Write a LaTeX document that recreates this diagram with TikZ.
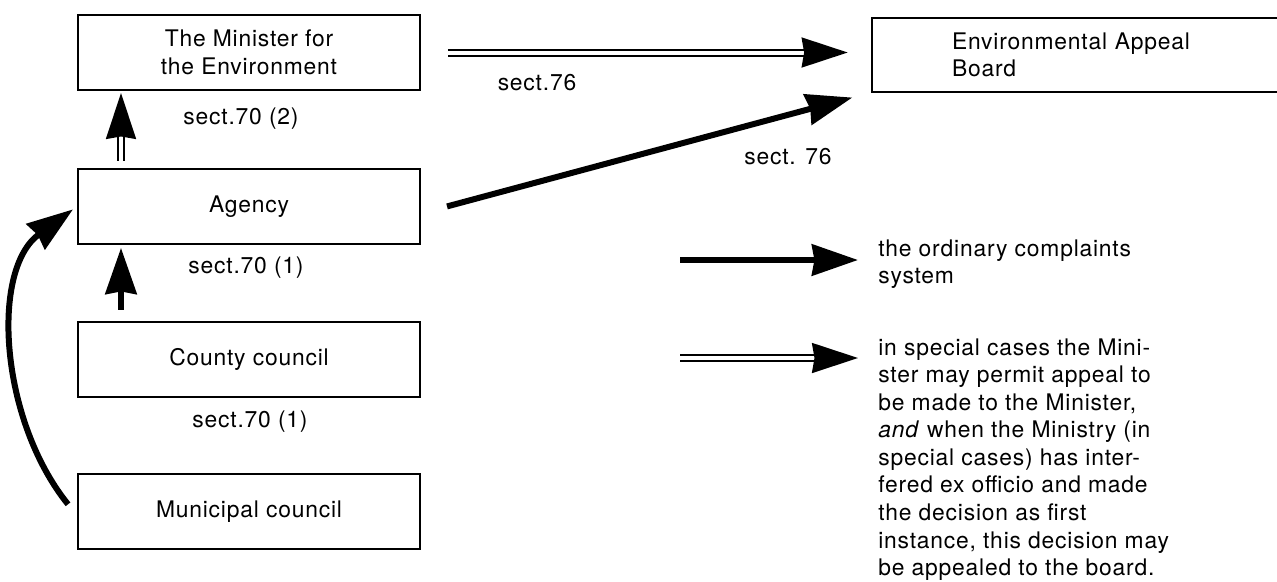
\documentclass[tikz,border=0pt]{standalone}
\usepackage{fontspec}
\setmainfont{TeX Gyre Heros}[LetterSpace=3.5]
\usetikzlibrary{positioning,arrows.meta}
\begin{document}
\begin{tikzpicture}[font=\fontsize{13}{15.7}\selectfont]
\tikzstyle{box} = [rectangle, minimum width=6.84cm, minimum height=1.5cm, align=center, draw=black, line width=1.1pt]
\tikzstyle{openbox} = [rectangle, minimum width=8.1cm, minimum height=1.48cm, inner xsep=1.6cm, text width=4.9cm, align=left]
\tikzstyle{sect} = [inner sep=0pt]
\tikzstyle{arrow} = [line width=0.12cm, -{Stealth[length=0.92cm,width=0.62cm,inset=0.05cm]}]
\tikzstyle{dblarrow} = [line width=0.04cm, double distance=0.08cm, -{Stealth[length=0.92cm,width=0.6cm,inset=0.05cm]}]
\tikzstyle{legend} = [anchor=north west, inner sep=0pt, align=left]

\useasboundingbox (0,0) rectangle (25.54,-11.62);

%nodes
\node (minister) [box] at (4.98,-1.05) {The Minister for\\the Environment};
\node (agency) [box, below=1.54cm of minister] {Agency};
\node (county) [box, below=1.52cm of agency] {County council};
\node (muni) [box, below=1.5cm of county] {Municipal council};
\node (board) [openbox] at (21.49,-1.1) {Environmental Appeal\\Board};
\draw [line width=1.1pt] (board.north east) -- (board.north west) -- (board.south west) -- (board.south east);

\node (s702) [sect] at ([xshift=-0.16cm,yshift=-0.56cm]minister.south) {sect.70 (2)};
\node (s701a) [sect] at ([xshift=-0.06cm,yshift=-0.46cm]agency.south) {sect.70 (1)};
\node (s701b) [sect] at ([xshift=0.02cm,yshift=-0.48cm]county.south) {sect.70 (1)};
\node (s76a) [sect] at (10.74,-1.66) {sect.76};
\node (s76b) [sect] at (15.76,-3.14) {sect. 76};

\node (ordtext) [legend] at (17.56,-4.78) {the ordinary complaints\\system};
\node (spectext) [legend] at (17.56,-6.76) {in special cases the Mini-\\ster may permit appeal to\\be made to the Minister,\\\textit{and} when the Ministry (in\\special cases) has inter-\\fered ex officio and made\\the decision as first\\instance, this decision may\\be appealed to the board.};
\coordinate (ordstart) at (13.6,-5.2);
\coordinate (specstart) at (13.6,-7.16);

%arrows
\draw [dblarrow, shorten <=0.54cm, shorten >=0.48cm] (minister.east) -- (minister.east -| board.west);
\draw [arrow, shorten <=0.54cm, shorten >=0.4cm] ([yshift=-0.14cm]agency.east) -- (board.south west);
\draw [dblarrow, shorten <=0.14cm, shorten >=0.04cm] ([xshift=-2.56cm]agency.north) -- ([xshift=-2.56cm]minister.south);
\draw [arrow, shorten <=0.22cm, shorten >=0.06cm] ([xshift=-2.56cm]county.north) -- ([xshift=-2.56cm]agency.south);
\draw [arrow, shorten >=0.1cm] ([xshift=-0.18cm,yshift=0.14cm]muni.west) .. controls (0,-8.4) and (-0.2,-5.4) .. (agency.west);
\draw [arrow, shorten >=0.4cm] (ordstart) -- (ordstart -| ordtext.west);
\draw [dblarrow, shorten >=0.4cm] (specstart) -- (specstart -| spectext.west);
\end{tikzpicture}
\end{document}
